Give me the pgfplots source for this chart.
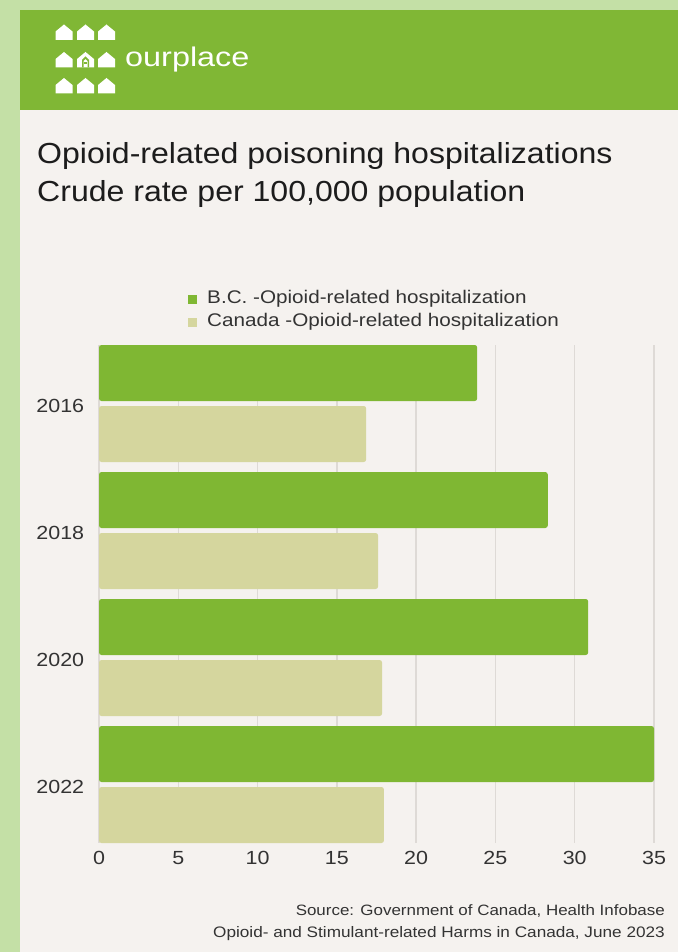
\documentclass[border=0pt]{standalone}
\usepackage{pgfplots}
\pgfplotsset{compat=1.18}
\usepackage{fontspec}
\setmainfont[FakeStretch=1.13]{Liberation Sans}
\newfontfamily\titlefont[FakeStretch=1.105]{Liberation Sans}
\newfontfamily\plainfont{Liberation Sans}
\definecolor{strip}{HTML}{C4E0A6}
\definecolor{card}{HTML}{F5F2EF}
\definecolor{header}{HTML}{80B735}
\definecolor{bcc}{HTML}{7FB733}
\definecolor{cac}{HTML}{D5D69E}
\definecolor{gridc}{HTML}{DEDAD6}
\definecolor{labc}{HTML}{333333}
\definecolor{titc}{HTML}{1C1C1C}
\begin{document}
\begin{tikzpicture}[x=1pt,y=1pt]
\fill[strip] (0,0) rectangle (678,-952);
\fill[card] (20,-10) rectangle (678,-952);
\fill[header] (20,-10) rectangle (678,-110);
% logo houses
\foreach \cx in {64,85.5,106.5}{
  \foreach \cy in {32.5,60,86}{
    \fill[white] ({\cx-8.5},{-\cy-7.5}) -- ({\cx+8.5},{-\cy-7.5}) -- ({\cx+8.5},{-\cy+1}) -- (\cx,{-\cy+8}) -- ({\cx-8.5},{-\cy+1}) -- cycle;
  }
}
\fill[header] (82,-67.5) -- (82,-60) -- (85.5,-56.5) -- (89,-60) -- (89,-67.5) -- (87.5,-67.5) -- (87.5,-60.8) -- (85.5,-58.8) -- (83.5,-60.8) -- (83.5,-67.5) -- cycle;
\fill[header] (84.3,-62.5) rectangle (86.7,-64.5);
\node[anchor=base west, inner sep=0pt, text=white] at (125,-66.7) {\scalebox{1.2}[1]{\plainfont\fontsize{27}{27}\selectfont ourplace}};
% title
\node[anchor=base west, inner sep=0pt, text=titc] at (37,-164) {\titlefont\fontsize{29}{29}\selectfont Opioid-related poisoning hospitalizations};
\node[anchor=base west, inner sep=0pt, text=titc] at (37,-201) {\titlefont\fontsize{29}{29}\selectfont Crude rate per 100,000 population};
% source
\node[anchor=base east, inner sep=0pt, text=labc] at (665,-915) {\fontsize{15}{15}\selectfont Source: Government of Canada, Health Infobase};
\node[anchor=base east, inner sep=0pt, text=labc] at (665,-937) {\fontsize{15.2}{15.2}\selectfont Opioid- and Stimulant-related Harms in Canada, June 2023};
\begin{axis}[
  at={(99pt,-843pt)}, anchor=south west,
  scale only axis, width=555pt, height=498pt,
  xbar, xmin=0, xmax=35, ymin=-0.4606, ymax=3.4606, y dir=reverse,
  xtick={0,5,...,35}, ytick={0,1,2,3}, yticklabels={2016,2018,2020,2022},
  xmajorgrids, grid style={gridc, line width=1.3pt},
  axis line style={draw=none}, tick style={draw=none},
  tick label style={font=\fontsize{19}{19}\selectfont, text=labc},
  yticklabel style={xshift=-7pt, yshift=-2pt},
  xticklabel style={yshift=-4.7pt},
  /pgf/number format/assume math mode=true,
  bar width=0.441,
  legend style={at={(axis description cs:0.1604,1.1094)}, anchor=north west, draw=none, fill=none,
    font=\fontsize{18.3}{18.3}\selectfont, text=labc, row sep=6pt, column sep=0pt, inner sep=0pt,
    nodes={inner xsep=0pt, inner ysep=0pt, text height=13pt, text depth=4pt}},
  legend cell align=left,
  legend image code/.code={\fill[#1, sharp corners] (0pt,-5pt) rectangle (9pt,4pt); \path (19pt,0pt);},
]
\addplot[fill=bcc, draw=none, bar shift=-0.2402, rounded corners=2.5pt] coordinates {(23.85,0) (28.3,1) (30.85,2) (35,3)};
\addplot[fill=cac, draw=none, bar shift=0.2402, rounded corners=2.5pt] coordinates {(16.85,0) (17.6,1) (17.85,2) (17.97,3)};
\legend{B.C.\ -Opioid-related hospitalization, Canada\ -Opioid-related hospitalization}
\end{axis}
\end{tikzpicture}
\end{document}
